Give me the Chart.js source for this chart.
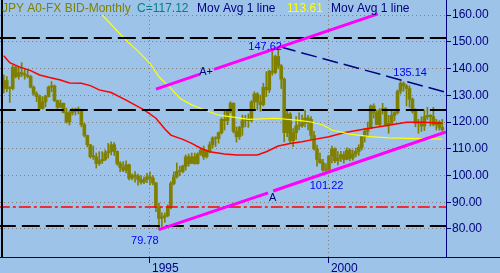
<!DOCTYPE html>
<html>
<head>
<meta charset="utf-8">
<script src="https://cdn.jsdelivr.net/npm/chart.js@4.4.0/dist/chart.umd.min.js"></script>
<style>
  html, body { margin: 0; padding: 0; background: #9dc3e8; }
  canvas { display: block; }
</style>
</head>
<body>
<canvas id="jpyChart" width="500" height="273"></canvas>
<script>
// JPY monthly bars, index 0 = Dec 1990 ... index 147 = Mar 2003
const barOpen = [132.5,135.5,132.5,132.5,140.5,137,138.5,138,137.5,137,133,130.5,129.5,125,127.5,129.5,133,133.5,128,125.5,
  127,123.5,120,123.5,124,124.5,124.5,119,115,111.5,107,107,104.5,105.5,106,108.5,109,111.5,109,104.5,
  103,102,104,99,100,99.8,98.5,97.5,98.5,99.5,99,97.2,88,84,84.5,85,88.5,97,99.5,101.5,
  101.5,103.5,107,104.5,107,104.5,108,109.5,107,109,111.5,114,113.8,116,121,120.5,124,127,116.5,114.5,
  118,120.5,120.5,120.5,127.5,130.5,127.5,126.5,133,132,139,138.5,144.5,141,136,116,123,113,116,118.5,
  118.5,119.5,121.5,121,115,110,106,104.8,102,102.2,107.3,110,105.5,106.5,107.8,106,109.5,106.5,108,109,
  110.5,114.5,116.5,117.5,126,123.5,119,124.5,125,119,119.5,122.5,123.5,131.5,134.5,133.5,132.5,128.5,124,119.5,
  120,118.5,122,122.5,122,119,120,118];
const barHigh = [137.6,137,133.2,141.3,141,140.6,142.2,140,139.4,137.4,133.5,131.3,130.1,129.5,130,133.5,135.1,133.8,128.2,128.2,
  127.1,125.2,124.1,125.2,125.2,125.6,124.8,119.6,115.1,111.6,111,108.4,108.9,108.9,109.5,112,112.6,112.3,109.2,105.2,
  105.2,105.5,104.3,100.6,101.5,100.5,100,99.5,100.8,101.4,100,97.4,89.7,86,86,89,97.7,101.4,104.7,103.5,
  103.9,107.7,108,108.4,108.4,108.5,110.3,111,109.5,112.6,114.5,114.5,116.3,121.5,124.5,124.5,127.6,127.2,118.2,118.4,
  122.6,122.5,123,128,131.3,131,130,134.5,138.8,139.4,146.5,145,147.62,141.5,136.5,124.5,123.5,117.5,122,123.4,
  122.6,124.5,122.5,122,116.5,111.4,108.4,106,104.5,107.5,111,110.3,108.9,109,108.9,110.3,110,109.5,110.2,111.5,
  114.8,117.6,120,126.4,126.8,124.5,125,127,125.5,122.5,124.5,124.5,132,135.14,135,134,133.5,129,125,121,
  122,124.5,125.5,122.8,125.5,121,120.5,121];
const barLow = [130.8,131.3,127.3,132,136.5,136,137,136,136.5,132.7,130,127.6,124.5,124.8,125.7,129.3,131.3,127.6,125,125.5,
  123.4,119.6,118.9,122.6,122.6,123,118.2,114.4,110.7,106.5,106,102.8,103.8,104.5,105.5,106.5,107.7,107.5,103.9,101.4,
  101.4,101,98.3,98.3,97.5,96.4,96.8,96.9,97.3,96.5,96.5,86.5,79.78,80.8,82.5,84.5,87.5,96.5,99,100,
  101,102,103.5,104.5,104.2,104.2,107.5,106,106.5,108.5,110.3,110.8,112.1,115.5,117,119,123.3,115.9,112.5,113.5,
  115,118.2,118,120,124.5,124.5,124,126,129.5,131,137.5,138,140,132.5,112.6,114.5,112.1,110.8,113.5,117,
  118,118.2,117,113.3,109.5,103.5,104.5,101.5,101.3,101.22,104.7,104.8,104,105.2,104.6,105.8,105.5,105.7,107,107.5,
  109.5,112.5,114.5,117.5,121.5,118.9,118.5,123,118.5,115.8,119.5,120.5,123,130.5,131.5,126,125.5,123.3,118.2,115.8,
  116.5,116.8,121,118.5,118.5,117,117,116.5];
const barClose = [135.5,132.5,132.5,140.5,137,138.5,138,137.5,137,133,130.5,129.5,125,127.5,129.5,133,133.5,128,125.5,127,
  123.5,120,123.5,124,124.5,124.5,119,115,111.5,107,107,104.5,105.5,106,108.5,109,111.5,109,104.5,103,
  102,104,99,100,99.8,98.5,97.5,98.5,99.5,99,97.2,88,84,84.5,85,88.5,97,99.5,101.5,101.5,
  103.5,107,104.5,107,104.5,108,109.5,107,109,111.5,114,113.8,116,121,120.5,124,127,116.5,114.5,118,
  120.5,120.5,120.5,127.5,130.5,127.5,126.5,133,132,139,138.5,144.5,141,136,116,123,113,116,118.5,118.5,
  119.5,121.5,121,115,110,106,104.8,102,102.2,107.3,110,105.5,106.5,107.8,106,109.5,106.5,108,109,110.5,
  114.5,116.5,117.5,126,123.5,119,124.5,125,119,119.5,122.5,123.5,131.5,134.5,133.5,132.5,128.5,124,119.5,120,
  118.5,122,122.5,122,119,120,118,117.12];

// moving average lines (month index, value)
const redAvgX = [0,2,5,9,12,15,19,22,26,29,32,36,41,47,51,54,56,60,63,66,69,74,78,85,88,92,96,100,104,109,114,121,128,135,141,147];
const redAvgY = [144.8,142.2,140.7,139.2,137.6,136.7,135.7,134.6,134.5,133.6,132,131,128.2,124.5,121.4,117.4,115.1,113.5,112,110.2,
  108.9,108,107.7,107.7,108.9,111,112,112.6,113.5,114.5,116,117.4,118.6,119.9,119.9,119.5];
const yellowAvgX = [33,39,42,45,49,52,56,59,63,68,72,77,82,91,99,103,107,110,116,123,129,136,147];
const yellowAvgY = [160,152.9,149.5,146.5,141.9,136.9,132.6,128.9,126.4,124.2,122.6,121.8,121,121.4,120.6,120,118.9,117,115.5,114.5,114.1,113.9,113.61];

// trend lines (month index, price); null = gap for the label
const lineAX = [52, 88.6, null, 90.3, 148.2];
const lineAY = [79.78, 93.5, null, 94.2, 116.3];
const lineAPlusX = [51, 65.8, null, 70.5, 125.4];
const lineAPlusY = [132.3, 137.9, null, 139.7, 160.4];
const topLineX = [92.6, 148.2];
const topLineY = [148.1, 131.1];

const blackLevels = [151.4, 124.5, 81.1];
const redLevel = 88.2;

const priceTicks = [80, 90, 100, 110, 120, 130, 140, 150, 160];
const yearTicks = [49, 109];
const yearLabels = ['1995', '2000'];

const noteText = ['147.62', '135.14', '101.22', '79.78', 'A+', 'A'];
const noteX = [87.6, 136.2, 108.2, 47.3, 67.8, 90.1];
const noteY = [147.1, 137.2, 95.0, 74.4, 137.6, 90.5];
const noteColor = ['#0000ff', '#0000ff', '#0000ff', '#0000ff', '#000080', '#000080'];

const BG = '#9dc3e8';
const OLIVE = '#808000';
const NAVY = '#000080';
const FONT = '"Liberation Sans", Arial, sans-serif';

const toPoints = (xs, ys) => xs.map((x, i) => (x === null ? {x: null, y: null} : {x: x, y: ys[i]}));
const levelPoints = v => [{x: -2, y: v}, {x: 150, y: v}];

const datasets = [
  { type: 'line', order: 0, data: toPoints(lineAX, lineAY), borderColor: '#ff00ff', borderWidth: 3, pointRadius: 0, spanGaps: false },
  { type: 'line', order: 0, data: toPoints(lineAPlusX, lineAPlusY), borderColor: '#ff00ff', borderWidth: 3, pointRadius: 0, spanGaps: false },
  { type: 'line', order: 1, data: toPoints(topLineX, topLineY), borderColor: NAVY, borderWidth: 1.5, borderDash: [16, 6], pointRadius: 0 },
  { type: 'line', order: 2, data: levelPoints(redLevel), borderColor: '#ff0000', borderWidth: 1.5, borderDash: [12, 3, 3, 3], pointRadius: 0 }
];
blackLevels.forEach(v => {
  datasets.push({ type: 'line', order: 2, data: levelPoints(v), borderColor: '#000000', borderWidth: 2, borderDash: [18, 6], pointRadius: 0 });
});
datasets.push(
  { type: 'line', order: 3, data: toPoints(yellowAvgX, yellowAvgY), borderColor: '#ffff00', borderWidth: 1.2, pointRadius: 0 },
  { type: 'line', order: 3, data: toPoints(redAvgX, redAvgY), borderColor: '#ff0000', borderWidth: 1.5, pointRadius: 0 },
  {
    type: 'bar', order: 5, grouped: false,
    data: barClose.map((c, i) => ({x: i, y: [barOpen[i], c]})),
    barThickness: 3, minBarLength: 1, borderWidth: 0,
    backgroundColor: OLIVE
  },
  {
    type: 'bar', order: 6, grouped: false,
    data: barHigh.map((h, i) => ({x: i, y: [barLow[i], h]})),
    barThickness: 1, backgroundColor: OLIVE
  }
);

const decorations = {
  id: 'decorations',
  beforeDraw(chart) {
    const ctx = chart.ctx;
    ctx.save();
    ctx.fillStyle = BG;
    ctx.fillRect(0, 0, chart.width, chart.height);
    ctx.restore();
  },
  afterDraw(chart) {
    const {ctx, chartArea, scales: {x, y}} = chart;
    ctx.save();
    // left frame and base line running under the price axis
    ctx.fillStyle = '#000000';
    ctx.fillRect(1, 0, 2, chartArea.bottom);
    ctx.strokeStyle = NAVY;
    ctx.lineWidth = 1;
    ctx.beginPath();
    ctx.moveTo(chartArea.right, chartArea.bottom + 0.5);
    ctx.lineTo(chart.width, chartArea.bottom + 0.5);
    ctx.stroke();

    // price notes
    ctx.font = '11px ' + FONT;
    ctx.textAlign = 'center';
    ctx.textBaseline = 'alphabetic';
    noteText.forEach((t, i) => {
      ctx.fillStyle = noteColor[i];
      ctx.fillText(t, x.getPixelForValue(noteX[i]), y.getPixelForValue(noteY[i]));
    });

    // header line
    ctx.font = '12px ' + FONT;
    ctx.textAlign = 'left';
    const header = [
      ['JPY A0-FX BID-Monthly', 2, OLIVE],
      ['C=117.12', 137, '#008080'],
      ['Mov Avg 1 line', 197, NAVY],
      ['113.61', 287, '#ffff00'],
      ['Mov Avg 1 line', 331, NAVY]
    ];
    header.forEach(h => {
      ctx.fillStyle = h[2];
      ctx.fillText(h[0], h[1], 12);
    });
    ctx.restore();
  }
};

new Chart(document.getElementById('jpyChart').getContext('2d'), {
  type: 'bar',
  data: { datasets: datasets },
  options: {
    responsive: false,
    animation: false,
    devicePixelRatio: 1,
    layout: { padding: 0, autoPadding: false },
    plugins: { legend: { display: false }, tooltip: { enabled: false } },
    scales: {
      x: {
        type: 'linear', min: -1.27, max: 148.24, offset: false,
        afterBuildTicks: s => { s.ticks = yearTicks.map(v => ({value: v})); },
        afterFit: s => { s.height = 16; s.paddingLeft = 0; s.paddingRight = 0; },
        grid: { offset: false, color: '#808080', tickLength: 6, tickColor: NAVY },
        border: { color: NAVY, width: 1, dash: [1, 3] },
        ticks: {
          color: NAVY, align: 'start', labelOffset: 2, padding: -2, maxRotation: 0, autoSkip: false,
          font: { family: FONT, size: 12 },
          callback: (v, i) => yearLabels[i]
        }
      },
      y: {
        type: 'linear', position: 'right', min: 69.53, max: 165.61,
        afterBuildTicks: s => { s.ticks = priceTicks.map(v => ({value: v})); },
        afterFit: s => { s.width = 54; s.paddingTop = 0; s.paddingBottom = 0; },
        grid: { color: '#808080', tickLength: 5, tickColor: NAVY },
        border: { color: NAVY, width: 1, dash: [1, 3] },
        ticks: {
          color: NAVY, padding: 1,
          font: { family: FONT, size: 12 },
          callback: v => v.toFixed(2)
        }
      }
    }
  },
  plugins: [decorations]
});
</script>
</body>
</html>
